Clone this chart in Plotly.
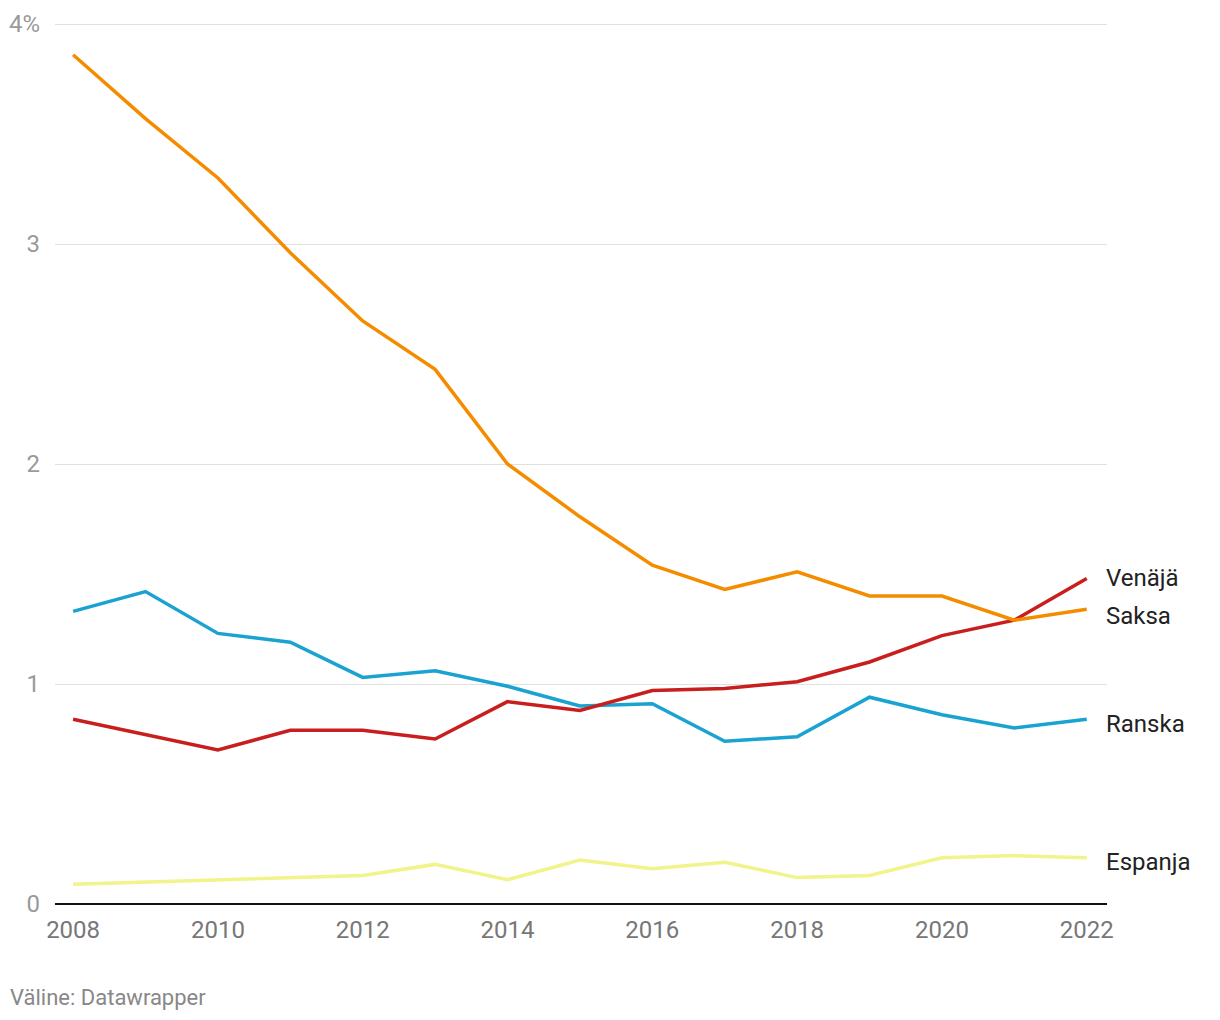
import plotly.graph_objects as go

years = list(range(2008, 2023))
saksa = [3.86, 3.57, 3.30, 2.96, 2.65, 2.43, 2.00, 1.76, 1.54, 1.43, 1.51, 1.40, 1.40, 1.29, 1.34]
ranska = [1.33, 1.42, 1.23, 1.19, 1.03, 1.06, 0.99, 0.90, 0.91, 0.74, 0.76, 0.94, 0.86, 0.80, 0.84]
venaja = [0.84, 0.77, 0.70, 0.79, 0.79, 0.75, 0.92, 0.88, 0.97, 0.98, 1.01, 1.10, 1.22, 1.29, 1.48]
espanja = [0.09, 0.10, 0.11, 0.12, 0.13, 0.18, 0.11, 0.20, 0.16, 0.19, 0.12, 0.13, 0.21, 0.22, 0.21]

series_names = ["Espanja", "Ranska", "Venäjä", "Saksa"]
series_values = [espanja, ranska, venaja, saksa]
series_colors = ["#f1f48a", "#1aa3d1", "#c81e1e", "#f58c00"]
label_y = [0.19, 0.82, 1.48, 1.31]

y_tickvals = [0, 1, 2, 3, 4]
y_ticktext = ["0", "1", "2", "3", "4%"]
x_tickvals = [2008, 2010, 2012, 2014, 2016, 2018, 2020, 2022]

fig = go.Figure()
for name, vals, col in zip(series_names, series_values, series_colors):
    fig.add_trace(go.Scatter(x=years, y=vals, mode="lines", name=name,
                             line=dict(color=col, width=3.5), cliponaxis=False,
                             hoverinfo="skip"))

for name, ly in zip(series_names, label_y):
    fig.add_annotation(x=years[-1], y=ly, xref="x", yref="y", text=name,
                       showarrow=False, xanchor="left", yanchor="middle", xshift=17,
                       font=dict(family="Roboto", size=24, color="#222222"))

fig.add_annotation(x=0, y=0, xref="paper", yref="paper", text="Väline: Datawrapper",
                   showarrow=False, xanchor="left", yanchor="middle",
                   xshift=-47, yshift=-93,
                   font=dict(family="Roboto", size=22, color="#888888"))

fig.update_layout(
    width=1220, height=1020,
    margin=dict(l=55, r=113, t=13, b=116),
    plot_bgcolor="white", paper_bgcolor="white",
    showlegend=False,
    font=dict(family="Roboto"),
    xaxis=dict(range=[2007.75, 2022.28], tickvals=x_tickvals, showgrid=False,
               zeroline=False, showline=False, ticks="", ticklabelstandoff=9,
               automargin=False,
               tickfont=dict(family="Roboto", size=24, color="#777777")),
    yaxis=dict(range=[0, 4.05], tickvals=y_tickvals, ticktext=y_ticktext,
               showgrid=True, gridcolor="#e0e0e0", gridwidth=1,
               zeroline=True, zerolinecolor="#111111", zerolinewidth=2,
               showline=False, ticks="", ticklabelstandoff=14,
               automargin=False,
               tickfont=dict(family="Roboto", size=24, color="#9a9a9a")),
)

fig.write_html("out.html")
